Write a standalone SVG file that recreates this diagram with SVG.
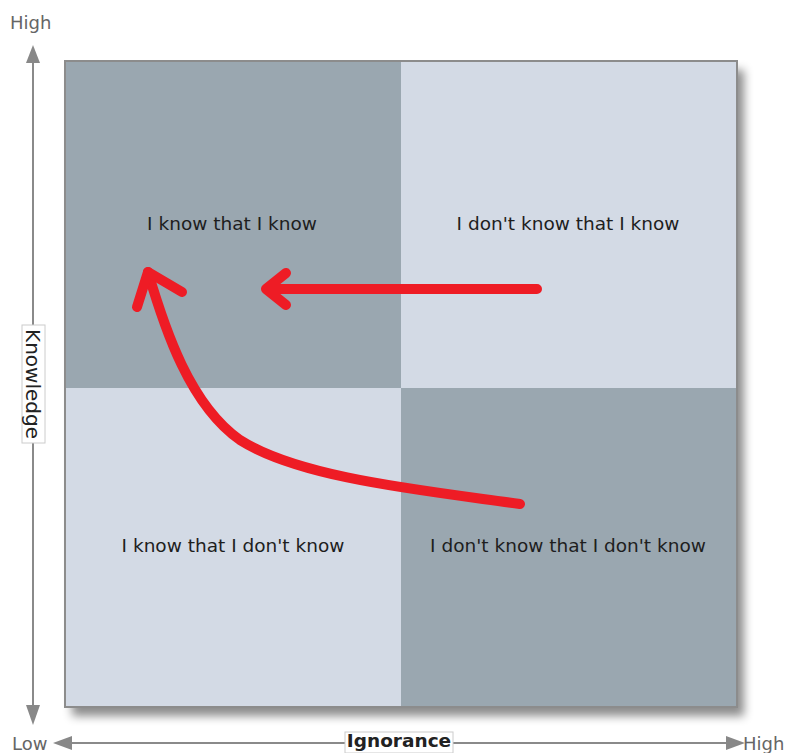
<svg xmlns="http://www.w3.org/2000/svg" width="790" height="753" viewBox="0 0 790 753">
<style>
.q{font-family:"DejaVu Sans",Verdana,sans-serif;font-size:18.5px;fill:#1e1e1e;text-anchor:middle}
.ax{font-family:"DejaVu Sans",Verdana,sans-serif;font-size:18px;fill:#666}
.axb{font-family:"DejaVu Sans",Verdana,sans-serif;font-size:20px;fill:#222;text-anchor:middle}
.red{fill:none;stroke:#ee1c25;stroke-width:10;stroke-linecap:round;stroke-linejoin:round}
.axis{stroke:#8a8a8a;stroke-width:2;fill:none}
</style>
<defs>
<filter id="sh" x="-10%" y="-10%" width="125%" height="125%">
<feDropShadow dx="7" dy="9" stdDeviation="5" flood-color="#000" flood-opacity="0.45"/>
</filter>
</defs>
<rect width="790" height="753" fill="#fff"/>
<g id="axes">
<line class="axis" x1="33" y1="60" x2="33" y2="708"/>
<polygon points="33,45 26,63 40,63" fill="#888"/>
<polygon points="33,725 26,705 40,705" fill="#888"/>
<line class="axis" x1="68" y1="743" x2="730" y2="743"/>
<polygon points="53,743 72,736 72,750" fill="#888"/>
<polygon points="745,743 726,736 726,750" fill="#888"/>
<text class="ax" x="10" y="29">High</text>
<text class="ax" x="12" y="750">Low</text>
<text class="ax" x="743" y="750">High</text>
<rect x="345" y="732" width="108" height="21" fill="#fff" stroke="#ccc" stroke-width="1"/>
<text class="axb" x="399" y="747" style="font-weight:bold;font-size:18.5px">Ignorance</text>
<rect x="22" y="325" width="23" height="118" fill="#fff" stroke="#ccc" stroke-width="1"/>
<text class="axb" transform="translate(26,384) rotate(90)" x="0" y="0">Knowledge</text>
</g>
<g id="matrix">
<rect x="65" y="61" width="672" height="646" fill="#9aa7b0" filter="url(#sh)"/>
<rect x="401" y="61" width="336" height="327" fill="#d3dae5"/>
<rect x="65" y="388" width="336" height="319" fill="#d3dae5"/>
<rect x="65" y="61" width="672" height="646" fill="none" stroke="#8c8c8c" stroke-width="2"/>
</g>
<g id="q1"><text class="q" x="232" y="230">I know that I know</text></g>
<g id="q2"><text class="q" x="568" y="230">I don't know that I know</text></g>
<g id="q3"><text class="q" x="233" y="552">I know that I don't know</text></g>
<g id="q4"><text class="q" x="568" y="552">I don't know that I don't know</text></g>
<g id="connectors">
<path class="red" d="M537,289 L266,289 M286,273 L266,289 L286,305"/>
<path class="red" d="M520,504 C420,490 300,478 240,440 C190,405 165,330 148,272"/>
<path class="red" d="M137,307 L148,272 L182,292"/>
</g>
</svg>
